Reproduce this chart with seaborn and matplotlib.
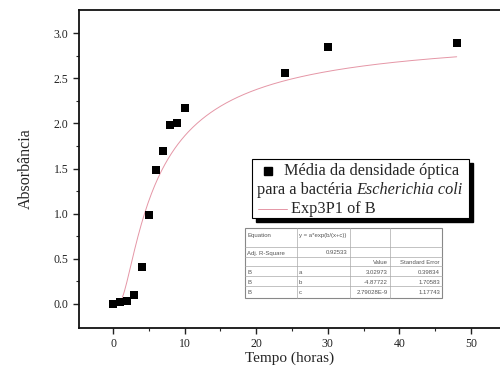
import numpy as np
import pandas as pd
import matplotlib
matplotlib.use("Agg")
import matplotlib.pyplot as plt
import seaborn as sns
from matplotlib.patches import Rectangle
from matplotlib.lines import Line2D

# ---- data ----
tempo = [0, 1, 2, 3, 4, 5, 6, 7, 8, 9, 10, 24, 30, 48]
absorbancia = [0.00, 0.02, 0.03, 0.10, 0.41, 0.98, 1.48, 1.69, 1.98, 2.00, 2.17, 2.56, 2.84, 2.89]
# Exp3P1 fit parameters (shown in the table)
fit_a = 3.02973
fit_b = -4.87722
fit_c = 2.79028e-9
fit_x_start = 1.3
fit_x_end = 48
xticks = [0, 10, 20, 30, 40, 50]
yticks = [0.0, 0.5, 1.0, 1.5, 2.0, 2.5, 3.0]

table_rows = [
    ["Equation", "y = a*exp(b/(x+c))", "", ""],
    ["Adj. R-Square", "0.92533", "", ""],
    ["", "", "Value", "Standard Error"],
    ["B", "a", "3.02973", "0.39834"],
    ["B", "b", "-4.87722", "1.70583"],
    ["B", "c", "2.79028E-9", "1.17743"],
]

FIT_COLOR = "#e596a6"

sns.set_style("ticks")
plt.rcParams['font.family'] = ['Liberation Serif', 'DejaVu Serif']

W, H = 500, 367
fig = plt.figure(figsize=(W / 100, H / 100), dpi=100)
ax = fig.add_axes([79 / W, 1 - 328 / H, 1 - 79 / W, (328 - 10) / H])

df = pd.DataFrame({"t": tempo, "a": absorbancia})
xf = np.linspace(fit_x_start, fit_x_end, 300)
fit_df = pd.DataFrame({"t": xf, "a": fit_a * np.exp(fit_b / (xf + fit_c))})

sns.lineplot(data=fit_df, x="t", y="a", ax=ax, color=FIT_COLOR, lw=0.7, zorder=2)
sns.scatterplot(data=df, x="t", y="a", ax=ax, marker="s", s=40, color="black",
                edgecolor="black", linewidth=0, zorder=3)

ax.set_xlim(-4.75, 54.05)
ax.set_ylim(-0.266, 3.255)
ax.set_xticks(xticks)
ax.set_yticks(yticks)
ax.set_xticklabels([str(v) for v in xticks])
ax.set_yticklabels([f"{v:.1f}" for v in yticks])
ax.set_xticks([5, 15, 25, 35, 45], minor=True)
ax.set_yticks([0.25, 0.75, 1.25, 1.75, 2.25, 2.75], minor=True)
ax.tick_params(axis="both", which="major", direction="out", length=4, width=1,
               labelsize=8.5, colors="#222222")
ax.tick_params(axis="both", which="minor", direction="out", length=2, width=0.8)
for s in ["left", "bottom", "top"]:
    ax.spines[s].set_linewidth(1.3)
    ax.spines[s].set_color("#111111")
ax.spines["right"].set_visible(False)
ax.set_xlabel("Tempo (horas)", fontsize=11, labelpad=1)
ax.set_ylabel("Absorbância", fontsize=11.5, labelpad=14)


def fx(px):
    return px / W


def fy(py):
    return 1 - py / H


LFS = 11.7
# ---- legend box with shadow ----
lx0, ly0, lx1, ly1 = 252, 159, 469, 218
fig.patches.append(Rectangle((fx(lx0 + 4), fy(ly1 + 4)), (lx1 - lx0) / W, (ly1 - ly0) / H,
                             transform=fig.transFigure, facecolor="black",
                             edgecolor="black", zorder=5))
fig.patches.append(Rectangle((fx(lx0), fy(ly1)), (lx1 - lx0) / W, (ly1 - ly0) / H,
                             transform=fig.transFigure, facecolor="white",
                             edgecolor="black", lw=0.8, zorder=6))
fig.lines.append(Line2D([fx(268)], [fy(171)], marker="s", markersize=5.5, color="black",
                        transform=fig.transFigure, zorder=7))
fig.text(fx(284), fy(171), "Média da densidade óptica", fontsize=LFS, va="center",
         ha="left", zorder=7)
t1 = fig.text(fx(257), fy(190), "para a bactéria ", fontsize=LFS, va="center", ha="left",
              zorder=7)
fig.canvas.draw()
bb = t1.get_window_extent(renderer=fig.canvas.get_renderer())
fig.text(bb.x1 / W, fy(190), "Escherichia coli", fontsize=LFS, va="center",
         ha="left", style="italic", zorder=7)
fig.lines.append(Line2D([fx(258), fx(287)], [fy(209), fy(209)], color=FIT_COLOR, lw=0.7,
                        transform=fig.transFigure, zorder=7))
fig.text(fx(291), fy(209), "Exp3P1 of B", fontsize=LFS, va="center", ha="left", zorder=7)

# ---- parameter table ----
tx0, ty0, tx1, ty1 = 245, 228, 442, 298
col_x = [245, 297, 350, 390, 442]
row_y = [228, 247, 257, 266, 276, 286, 298]
fig.patches.append(Rectangle((fx(tx0), fy(ty1)), (tx1 - tx0) / W, (ty1 - ty0) / H,
                             transform=fig.transFigure, facecolor="white",
                             edgecolor="#888888", lw=0.8, zorder=5))
for cx in col_x[1:-1]:
    fig.lines.append(Line2D([fx(cx), fx(cx)], [fy(ty0), fy(ty1)], color="#aaaaaa", lw=0.5,
                            transform=fig.transFigure, zorder=6))
for ry in row_y[1:-1]:
    fig.lines.append(Line2D([fx(tx0), fx(tx1)], [fy(ry), fy(ry)], color="#aaaaaa", lw=0.5,
                            transform=fig.transFigure, zorder=6))
text_y = [236, 253, 262, 272, 282, 292]
for r, row in enumerate(table_rows):
    for c, val in enumerate(row):
        if not val:
            continue
        if r == 0 or c == 0 or (c == 1 and r > 2):
            x, ha = col_x[c] + 2, "left"
        else:
            x, ha = col_x[c + 1] - 2, "right"
        if r == 0 and c == 1:
            x, ha = col_x[1] + 2, "left"
        fig.text(fx(x), fy(text_y[r]), val, fontsize=4.3, family="Liberation Sans",
                 color="#555555", ha=ha, va="center", zorder=7)

fig.savefig("out.png", dpi=100)
